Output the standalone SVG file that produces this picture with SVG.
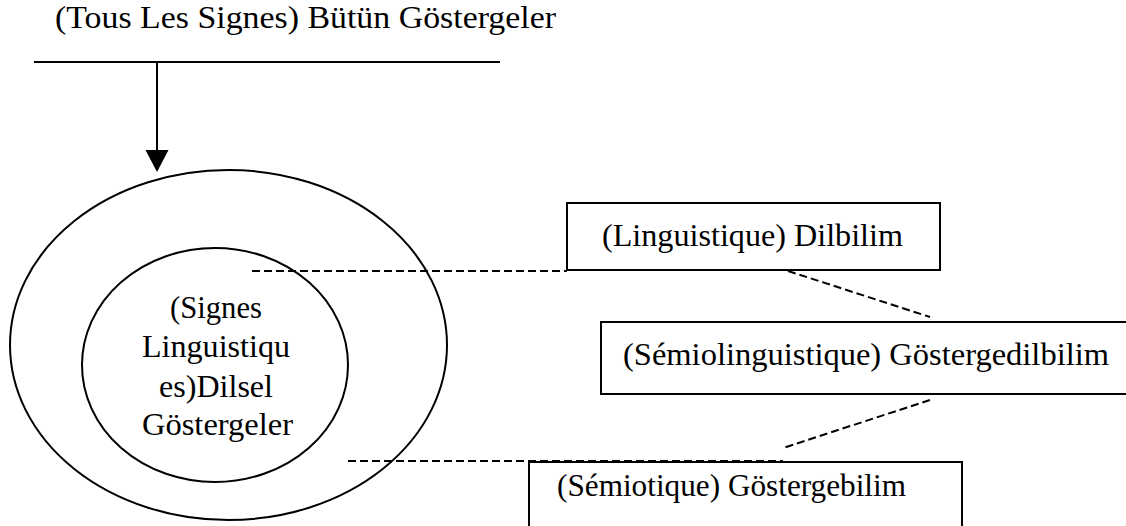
<svg xmlns="http://www.w3.org/2000/svg" width="1126" height="526" viewBox="0 0 1126 526">
  <defs>
    <style>
      .lbl { font-family: "Liberation Serif", "Times New Roman", serif; font-size: 32px; fill: #000; }
      .shape { fill: none; stroke: #000; stroke-width: 2; }
      .box { fill: #fff; stroke: #000; stroke-width: 2; }
      .dash { fill: none; stroke: #000; stroke-width: 2; stroke-dasharray: 8 4; }
    </style>
  </defs>
  <rect width="1126" height="526" fill="#fff"/>

  <!-- Heading with its rule -->
  <g id="all-signs">
    <text class="lbl" x="55" y="28" textLength="501" lengthAdjust="spacingAndGlyphs">(Tous Les Signes) Bütün Göstergeler</text>
    <line class="shape" x1="34" y1="62" x2="500" y2="62"/>
  </g>

  <!-- Nested sets -->
  <g id="outer-set">
    <ellipse class="shape" cx="228.5" cy="345" rx="218.5" ry="175"/>
  </g>
  <g id="linguistic-signs">
    <ellipse class="shape" cx="215" cy="365" rx="133" ry="117"/>
    <text class="lbl" x="170" y="318" textLength="92" lengthAdjust="spacingAndGlyphs">(Signes</text>
    <text class="lbl" x="142" y="357" textLength="148" lengthAdjust="spacingAndGlyphs">Linguistiqu</text>
    <text class="lbl" x="159" y="397" textLength="114" lengthAdjust="spacingAndGlyphs">es)Dilsel</text>
    <text class="lbl" x="142" y="435" textLength="151" lengthAdjust="spacingAndGlyphs">Göstergeler</text>
  </g>

  <!-- Disciplines -->
  <g id="linguistique">
    <rect class="box" x="567" y="203" width="373" height="67"/>
    <text class="lbl" x="602" y="246" textLength="301" lengthAdjust="spacingAndGlyphs">(Linguistique) Dilbilim</text>
  </g>
  <g id="semiolinguistique">
    <rect class="box" x="601" y="322" width="540" height="72"/>
    <text class="lbl" x="623" y="365" textLength="486" lengthAdjust="spacingAndGlyphs">(Sémiolinguistique) Göstergedilbilim</text>
  </g>
  <g id="semiotique">
    <rect class="box" x="529" y="462" width="433" height="80"/>
    <text class="lbl" x="557" y="496" textLength="349" lengthAdjust="spacingAndGlyphs">(Sémiotique) Göstergebilim</text>
  </g>

  <!-- Connectors -->
  <g id="connectors">
    <line class="shape" x1="157" y1="62" x2="157" y2="151"/>
    <polygon points="145.5,150 168.5,150 157,172" fill="#000"/>
    <line class="dash" x1="252" y1="271" x2="567" y2="271"/>
    <line class="dash" x1="788" y1="271" x2="930" y2="317"/>
    <line class="dash" x1="930" y1="400" x2="783" y2="448"/>
    <line class="dash" x1="348" y1="461" x2="783" y2="461"/>
  </g>
</svg>
